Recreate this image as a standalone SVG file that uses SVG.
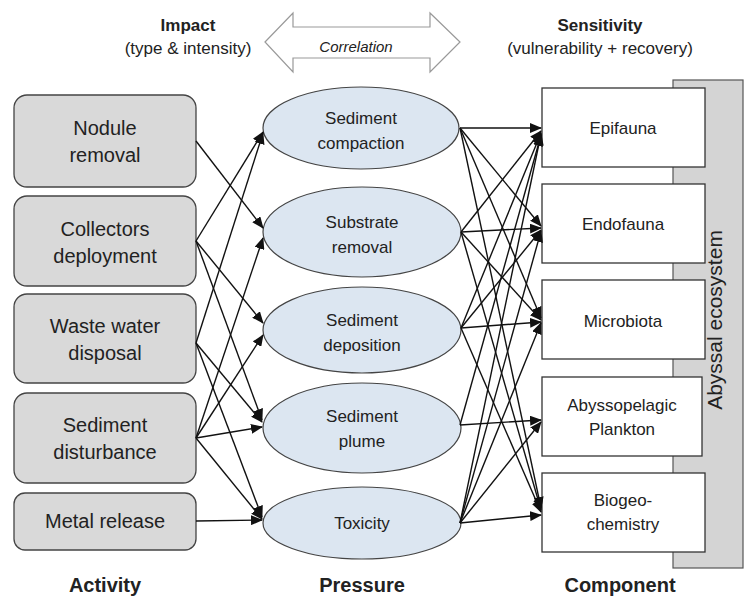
<svg xmlns="http://www.w3.org/2000/svg" width="755" height="601" viewBox="0 0 755 601">
<defs>
<marker id="ah" markerUnits="userSpaceOnUse" markerWidth="12" markerHeight="10" refX="11" refY="5" orient="auto">
<path d="M0,0 L12,5 L0,10 z" fill="#111"/>
</marker>
<style>
.t{font-family:"Liberation Sans",Arial,sans-serif;fill:#222;text-anchor:middle}
.b{font-weight:bold}
.act{fill:#d9d9d9;stroke:#444;stroke-width:1.3}
.pr{fill:#dce6f1;stroke:#444;stroke-width:1.2}
.cp{fill:#fff;stroke:#333;stroke-width:1.3}
.c line{stroke:#111;stroke-width:1.4;marker-end:url(#ah)}
</style>
</defs>
<rect width="755" height="601" fill="#fff"/>
<g id="header">
<text class="t b" x="188" y="31" font-size="17">Impact</text>
<text class="t" x="188" y="54" font-size="17">(type &amp; intensity)</text>
<path d="M265,42 L293,13 L293,27 L430,27 L430,13 L460,42 L430,72 L430,58 L293,58 L293,72 Z" fill="#fff" stroke="#999" stroke-width="1.2"/>
<text class="t" x="356" y="52" font-size="15" font-style="italic">Correlation</text>
<text class="t b" x="600" y="31" font-size="17">Sensitivity</text>
<text class="t" x="600" y="54" font-size="17">(vulnerability + recovery)</text>
</g>
<g id="ecosystem">
<rect x="673" y="80" width="70" height="488" fill="#d4d4d4" stroke="#555" stroke-width="1.2"/>
<text class="t" transform="translate(722,320) rotate(-90)" font-size="21">Abyssal ecosystem</text>
</g>
<g id="a1"><rect class="act" x="14" y="95" width="182" height="92" rx="13"/><text class="t" x="105" y="135" font-size="20">Nodule</text><text class="t" x="105" y="162" font-size="20">removal</text></g>
<g id="a2"><rect class="act" x="14" y="196" width="182" height="90" rx="13"/><text class="t" x="105" y="236" font-size="20">Collectors</text><text class="t" x="105" y="263" font-size="20">deployment</text></g>
<g id="a3"><rect class="act" x="14" y="294" width="182" height="89" rx="13"/><text class="t" x="105" y="333" font-size="20">Waste water</text><text class="t" x="105" y="360" font-size="20">disposal</text></g>
<g id="a4"><rect class="act" x="14" y="393" width="182" height="90" rx="13"/><text class="t" x="105" y="432" font-size="20">Sediment</text><text class="t" x="105" y="459" font-size="20">disturbance</text></g>
<g id="a5"><rect class="act" x="14" y="493" width="182" height="57" rx="11"/><text class="t" x="105" y="528" font-size="20">Metal release</text></g>
<g id="p1"><ellipse class="pr" cx="361" cy="128" rx="98" ry="41"/><text class="t" x="361" y="124" font-size="17">Sediment</text><text class="t" x="361" y="149" font-size="17">compaction</text></g>
<g id="p2"><ellipse class="pr" cx="362" cy="232" rx="99" ry="45"/><text class="t" x="362" y="228" font-size="17">Substrate</text><text class="t" x="362" y="253" font-size="17">removal</text></g>
<g id="p3"><ellipse class="pr" cx="362" cy="330" rx="99" ry="43"/><text class="t" x="362" y="326" font-size="17">Sediment</text><text class="t" x="362" y="351" font-size="17">deposition</text></g>
<g id="p4"><ellipse class="pr" cx="362" cy="428" rx="99" ry="45"/><text class="t" x="362" y="422" font-size="17">Sediment</text><text class="t" x="362" y="447" font-size="17">plume</text></g>
<g id="p5"><ellipse class="pr" cx="362" cy="523" rx="99" ry="36"/><text class="t" x="362" y="529" font-size="17">Toxicity</text></g>
<g id="c1"><rect class="cp" x="542" y="88" width="163" height="79"/><text class="t" x="623" y="134" font-size="17">Epifauna</text></g>
<g id="c2"><rect class="cp" x="542" y="184" width="163" height="79"/><text class="t" x="623" y="230" font-size="17">Endofauna</text></g>
<g id="c3"><rect class="cp" x="542" y="280" width="163" height="79"/><text class="t" x="623" y="327" font-size="17">Microbiota</text></g>
<g id="c4"><rect class="cp" x="542" y="377" width="160" height="79"/><text class="t" x="622" y="411" font-size="17">Abyssopelagic</text><text class="t" x="622" y="435" font-size="17">Plankton</text></g>
<g id="c5"><rect class="cp" x="542" y="473" width="163" height="79"/><text class="t" x="623" y="506" font-size="17">Biogeo-</text><text class="t" x="623" y="530" font-size="17">chemistry</text></g>
<g id="connectors" class="c">
<line x1="196" y1="141" x2="263" y2="228"/>
<line x1="196" y1="241" x2="263" y2="132"/>
<line x1="196" y1="241" x2="263" y2="323"/>
<line x1="196" y1="241" x2="262" y2="420"/>
<line x1="196" y1="343" x2="263" y2="133"/>
<line x1="196" y1="343" x2="262" y2="422"/>
<line x1="196" y1="343" x2="262" y2="517"/>
<line x1="196" y1="438" x2="263" y2="238"/>
<line x1="196" y1="438" x2="263" y2="335"/>
<line x1="196" y1="438" x2="262" y2="427"/>
<line x1="196" y1="438" x2="262" y2="519"/>
<line x1="196" y1="521" x2="262" y2="520"/>
<line x1="460" y1="128" x2="541" y2="128"/>
<line x1="460" y1="128" x2="541" y2="226"/>
<line x1="460" y1="128" x2="541" y2="318"/>
<line x1="460" y1="128" x2="541" y2="508"/>
<line x1="461" y1="232" x2="541" y2="131"/>
<line x1="461" y1="232" x2="541" y2="228"/>
<line x1="461" y1="232" x2="541" y2="320"/>
<line x1="461" y1="232" x2="541" y2="510"/>
<line x1="461" y1="328" x2="541" y2="133"/>
<line x1="461" y1="328" x2="541" y2="230"/>
<line x1="461" y1="328" x2="541" y2="322"/>
<line x1="461" y1="328" x2="541" y2="512"/>
<line x1="460" y1="425" x2="541" y2="135"/>
<line x1="460" y1="425" x2="541" y2="420"/>
<line x1="460" y1="523" x2="541" y2="134"/>
<line x1="460" y1="523" x2="541" y2="231"/>
<line x1="460" y1="523" x2="541" y2="323"/>
<line x1="460" y1="523" x2="541" y2="422"/>
<line x1="460" y1="523" x2="541" y2="515"/>
</g>
<g id="footer">
<text class="t b" x="105" y="592" font-size="20">Activity</text>
<text class="t b" x="362" y="592" font-size="20">Pressure</text>
<text class="t b" x="620" y="592" font-size="20">Component</text>
</g>
</svg>
